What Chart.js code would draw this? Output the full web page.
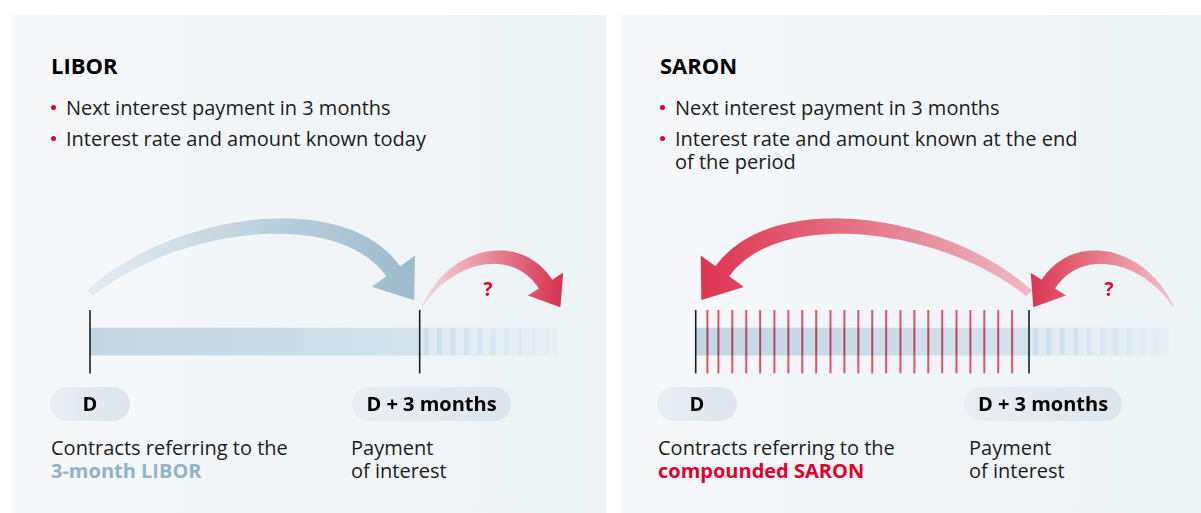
<!DOCTYPE html>
<html>
<head>
<meta charset="utf-8">
<script src="https://cdn.jsdelivr.net/npm/chart.js@4.4.1/dist/chart.umd.min.js"></script>
<style>
  body { margin: 0; width: 1201px; height: 513px; background: #fff; position: relative; overflow: hidden;
         font-family: "Open Sans", "Noto Sans", sans-serif; color: #1c1c1c; }
  .panel { position: absolute; top: 15px; height: 498px; background: linear-gradient(90deg, #f6f8fa, #eef3f6); }
  .t { position: absolute; white-space: nowrap; line-height: 1; font-size: 20px; }
  .title { font-size: 22px; font-weight: 700; color: #000; }
  .dot { position: absolute; width: 5px; height: 5px; border-radius: 50%; background: #e4002b; }
  .pill { position: absolute; top: 387px; height: 34px; border-radius: 17px; display: flex; align-items: center;
          justify-content: center; font-size: 20px; font-weight: 700; line-height: 1; color: #000;
          background: linear-gradient(90deg, #e9eef3, #dce5ec); }
  .q { position: absolute; top: 280px; font-size: 19px; font-weight: 700; line-height: 1; color: #e4002b; transform: translateX(-50%); }
  .b { font-weight: 700; }
  canvas { position: absolute; top: 190px; }
</style>
</head>
<body>
<div class="panel" style="left:12px;width:594px"></div>
<div class="panel" style="left:621px;width:580px"></div>

<div class="t title" style="left:51px;top:54px">LIBOR</div>
<div class="dot" style="left:51px;top:105px"></div>
<div class="t" style="left:66px;top:98px">Next interest payment in 3 months</div>
<div class="dot" style="left:51px;top:136px"></div>
<div class="t" style="left:66px;top:129px">Interest rate and amount known today</div>

<div class="t title" style="left:660px;top:54px">SARON</div>
<div class="dot" style="left:660px;top:105px"></div>
<div class="t" style="left:675px;top:98px">Next interest payment in 3 months</div>
<div class="dot" style="left:660px;top:136px"></div>
<div class="t" style="left:675px;top:129px">Interest rate and amount known at the end</div>
<div class="t" style="left:675px;top:152px">of the period</div>

<canvas id="libor" width="594" height="240" style="left:12px"></canvas>
<canvas id="saron" width="600" height="240" style="left:621px"></canvas>

<div class="q" style="left:488px">?</div>
<div class="q" style="left:1109px">?</div>

<div class="pill" style="left:50px;width:80px">D</div>
<div class="pill" style="left:352px;width:159px">D + 3 months</div>
<div class="pill" style="left:657px;width:80px">D</div>
<div class="pill" style="left:964px;width:158px">D + 3 months</div>

<div class="t" style="left:51px;top:438px">Contracts referring to the</div>
<div class="t b" style="left:51px;top:461px;color:#8fb3c7">3-month LIBOR</div>
<div class="t" style="left:351px;top:438px">Payment</div>
<div class="t" style="left:351px;top:461px">of interest</div>

<div class="t" style="left:658px;top:438px">Contracts referring to the</div>
<div class="t b" style="left:658px;top:461px;color:#e4002b">compounded SARON</div>
<div class="t" style="left:969px;top:438px">Payment</div>
<div class="t" style="left:969px;top:461px">of interest</div>

<script>
// timeline in days from D
var periodDays = [0, 91];
var nextDays = [91, 129];
var nextPayment = 131;
var markerDays = [0, 91];
// daily SARON fixings inside the 3-month period
var saronFixings = [3.2, 6.2, 10.0, 13.8, 17.6, 21.5, 25.3, 29.1, 32.9, 36.8, 40.6, 44.4,
                    48.2, 52.0, 55.9, 59.7, 63.5, 67.3, 71.2, 75.0, 78.8, 82.6, 86.4];
// arrows: [from day, to day]
var liborArrows = [[0, 91], [91, nextPayment]];
var saronArrows = [[91, 0], [nextPayment, 91]];

// arrow shapes: path in (fraction of span, px above bar centre)
var bigArrow = { path: [[0, 48.5], [0.25, 120], [0.757, 145], [0.92, 70.5]], w0: 8, w1: 17, head: 35.7, half: 26.7 };
var smallArrow = { path: [[0.015, 35], [0.224, 89.7], [0.672, 101.7], [0.868, 57.6]], w0: 1, w1: 16, head: 27.6, half: 21 };

function drawArrow(ctx, x0, x1, yb, s, c0, c1) {
  var P = s.path.map(function (p) { return [x0 + p[0] * (x1 - x0), yb - p[1]]; });
  var left = [], right = [], n = 60;
  for (var i = 0; i <= n; i++) {
    var t = i / n, mt = 1 - t;
    var bx = mt*mt*mt*P[0][0] + 3*mt*mt*t*P[1][0] + 3*mt*t*t*P[2][0] + t*t*t*P[3][0];
    var by = mt*mt*mt*P[0][1] + 3*mt*mt*t*P[1][1] + 3*mt*t*t*P[2][1] + t*t*t*P[3][1];
    var dx = 3*mt*mt*(P[1][0]-P[0][0]) + 6*mt*t*(P[2][0]-P[1][0]) + 3*t*t*(P[3][0]-P[2][0]);
    var dy = 3*mt*mt*(P[1][1]-P[0][1]) + 6*mt*t*(P[2][1]-P[1][1]) + 3*t*t*(P[3][1]-P[2][1]);
    var len = Math.hypot(dx, dy);
    var w = (s.w0 + (s.w1 - s.w0) * (1 - mt*mt)) / 2;
    left.push([bx - dy/len*w, by + dx/len*w]);
    right.push([bx + dy/len*w, by - dx/len*w]);
  }
  var ex = P[3][0], ey = P[3][1];
  var ux = ex - P[2][0], uy = ey - P[2][1], ul = Math.hypot(ux, uy);
  ux /= ul; uy /= ul;
  var tip = [ex + ux*s.head, ey + uy*s.head];
  var g = ctx.createLinearGradient(P[0][0], 0, tip[0], 0);
  g.addColorStop(0, c0);
  g.addColorStop(1, c1);
  ctx.save();
  ctx.fillStyle = g;
  ctx.beginPath();
  left.forEach(function (p, k) { k ? ctx.lineTo(p[0], p[1]) : ctx.moveTo(p[0], p[1]); });
  ctx.lineTo(ex - uy*s.half, ey + ux*s.half);
  ctx.lineTo(tip[0], tip[1]);
  ctx.lineTo(ex + uy*s.half, ey - ux*s.half);
  for (var j = right.length - 1; j >= 0; j--) ctx.lineTo(right[j][0], right[j][1]);
  ctx.closePath();
  ctx.fill();
  ctx.restore();
}

function arrowPlugin(arrows, shapes, colors) {
  return {
    id: 'arrows',
    afterDatasetsDraw: function (chart) {
      var xs = chart.scales.x, yb = chart.scales.y.getPixelForValue(0);
      arrows.forEach(function (a, i) {
        drawArrow(chart.ctx, xs.getPixelForValue(a[0]), xs.getPixelForValue(a[1]), yb, shapes[i], colors[i][0], colors[i][1]);
      });
    }
  };
}

function drawStripes(ctx, bar) {
  var p = bar.getProps(['x', 'y', 'base', 'height'], true);
  var l = Math.min(p.x, p.base), r = Math.max(p.x, p.base), top = p.y - p.height / 2;
  var g = ctx.createLinearGradient(l, 0, r, 0);
  g.addColorStop(0, 'rgba(200,218,229,0.8)');
  g.addColorStop(1, 'rgba(200,218,229,0.05)');
  ctx.save();
  ctx.fillStyle = g;
  for (var sx = l + 4; sx < r - 2; sx += 13.4) ctx.fillRect(sx, top, 5, p.height);
  ctx.restore();
}

var blendPlugin = {
  id: 'blend',
  beforeDatasetDraw: function (chart, args) {
    if (chart.data.datasets[args.index].blend) {
      chart.ctx.save();
      chart.ctx.globalCompositeOperation = 'multiply';
    }
  },
  afterDatasetDraw: function (chart, args) {
    var ds = chart.data.datasets[args.index];
    if (ds.blend) chart.ctx.restore();
    if (ds.stripes) drawStripes(chart.ctx, args.meta.data[0]);
  }
};

function periodFill(context) {
  var chart = context.chart, xs = chart.scales.x;
  if (!chart.chartArea) return '#cbdbe5';
  var g = chart.ctx.createLinearGradient(xs.getPixelForValue(periodDays[0]), 0, xs.getPixelForValue(periodDays[1]), 0);
  g.addColorStop(0, '#c2d6e2');
  g.addColorStop(1, '#d5e2ea');
  return g;
}

function nextFill(context) {
  var chart = context.chart, xs = chart.scales.x;
  if (!chart.chartArea) return 'rgba(214,227,236,0.5)';
  var g = chart.ctx.createLinearGradient(xs.getPixelForValue(nextDays[0]), 0, xs.getPixelForValue(nextDays[1]), 0);
  g.addColorStop(0, 'rgba(214,227,236,0.65)');
  g.addColorStop(1, 'rgba(214,227,236,0.2)');
  return g;
}

function lines(days, color, width, order, blend) {
  return {
    type: 'scatter',
    data: days.map(function (d) { return { x: d, y: 'period' }; }),
    pointStyle: 'line',
    pointRotation: 90,
    pointRadius: 31.7,
    pointBorderColor: color,
    pointBorderWidth: width,
    clip: false,
    order: order,
    blend: blend
  };
}

function timeline(id, pad, fixings, arrows, colors) {
  var datasets = [
    { type: 'bar', data: [periodDays], backgroundColor: periodFill, barThickness: 27, grouped: false, clip: false, order: 3 },
    { type: 'bar', data: [nextDays], backgroundColor: nextFill, barThickness: 27, grouped: false, clip: false, order: 3, stripes: true },
    lines(markerDays, '#1e1e1e', 1.6, 0, false)
  ];
  if (fixings) datasets.push(lines(fixings, '#e4506a', 2, 1, true));
  return new Chart(document.getElementById(id), {
    type: 'bar',
    data: { labels: ['period'], datasets: datasets },
    options: {
      indexAxis: 'y',
      responsive: false,
      animation: false,
      events: [],
      layout: { padding: pad },
      scales: {
        x: { type: 'linear', min: 0, max: nextPayment, display: false },
        y: { type: 'category', display: false }
      },
      plugins: { legend: { display: false }, tooltip: { enabled: false } }
    },
    plugins: [blendPlugin, arrowPlugin(arrows, [bigArrow, smallArrow], colors)]
  });
}

// canvas top is at page y 190; bar centre at page y 341.7
timeline('libor', { left: 78, right: 41.4, top: 103.4, bottom: 40 }, null, liborArrows,
  [['#e4ebf0', '#9cbbcc'], ['#f4dde2', '#d7334e']]);
timeline('saron', { left: 74.7, right: 45.5, top: 103.4, bottom: 40 }, saronFixings, saronArrows,
  [['#ecb9c3', '#dd3450'], ['#edc6ce', '#db3852']]);
</script>
</body>
</html>
